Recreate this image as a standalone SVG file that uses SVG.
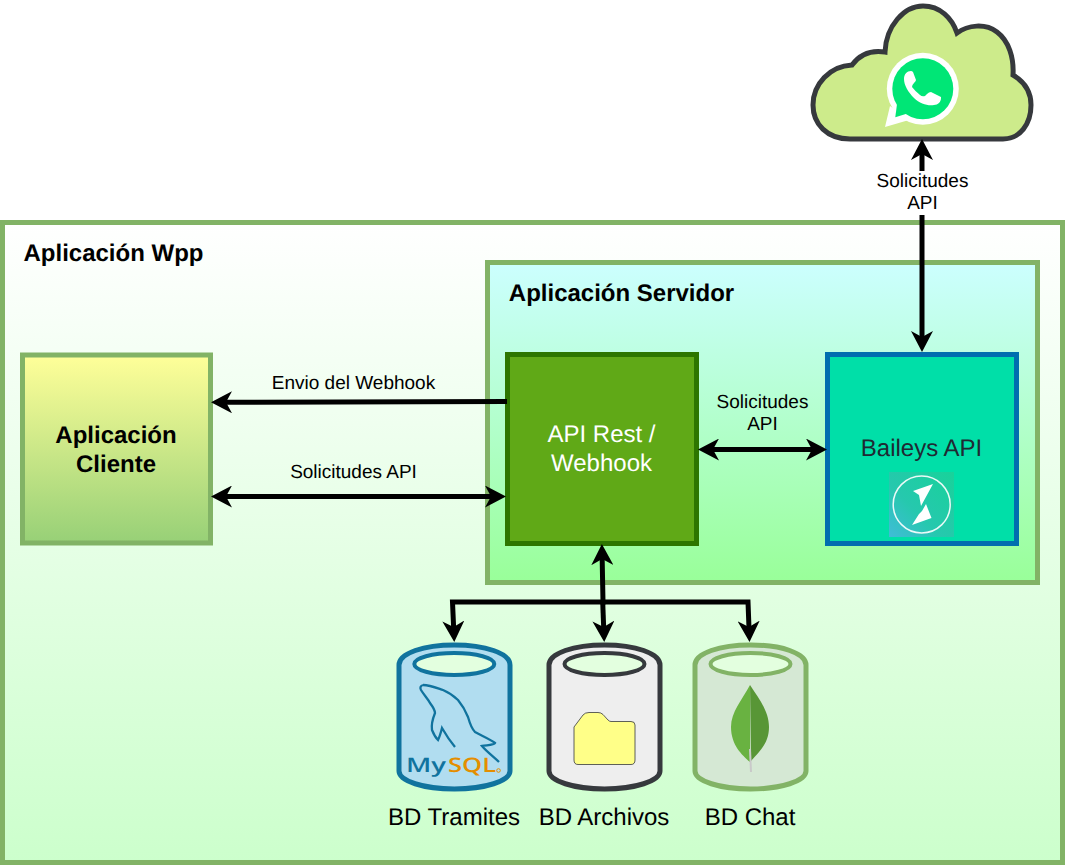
<svg xmlns="http://www.w3.org/2000/svg" width="1065" height="865" viewBox="0 0 1065 865">
<style>
text{font-family:"Liberation Sans",Arial,sans-serif;fill:#000;text-anchor:middle;text-rendering:geometricPrecision}
.t{font-size:24px;font-weight:bold}
.l{font-size:24px}
.s{font-size:19px}
.g{stroke:#82b366;stroke-width:5}
.c{fill:none;stroke:#000;stroke-width:5;marker-end:url(#h)}
.b{marker-start:url(#h)}
.cyl{stroke-width:5}
.hole{fill:#e3ffdf;stroke-width:4}
</style>
<defs>
<linearGradient id="g1" x1="0" y1="0" x2="0" y2="1"><stop offset="0" stop-color="#fff"/><stop offset="1" stop-color="#cfc"/></linearGradient>
<linearGradient id="g2" x1="0" y1="0" x2="0" y2="1"><stop offset="0" stop-color="#cff"/><stop offset="1" stop-color="#9f9"/></linearGradient>
<linearGradient id="g3" x1="0" y1="0" x2="0" y2="1"><stop offset="0" stop-color="#ff9"/><stop offset="1" stop-color="#97d077"/></linearGradient>
<linearGradient id="g4" x1="0" y1="1" x2="1" y2="0"><stop offset="0" stop-color="#40bcd8"/><stop offset=".4" stop-color="#26c8ae"/><stop offset="1" stop-color="#18d29a"/></linearGradient>
<marker id="h" markerUnits="userSpaceOnUse" markerWidth="22" markerHeight="22" viewBox="0 0 22 22" refX="15" refY="11" orient="auto-start-reverse"><path d="M21,11L0,0L6,11L0,22Z" fill="#000"/></marker>
</defs>

<g id="app-wpp">
<rect x="2.5" y="222.5" width="1060" height="640" fill="url(#g1)" class="g"/>
<text class="t" x="113.500" y="261">Aplicación Wpp</text>
</g>
<g id="app-servidor">
<rect x="487.500" y="262.500" width="550" height="320" fill="url(#g2)" class="g"/>
<text class="t" x="621.500" y="301">Aplicación Servidor</text>
</g>
<g id="app-cliente">
<rect x="22.500" y="355" width="188" height="188" fill="url(#g3)" class="g"/>
<text class="t" x="116" y="443">Aplicación</text>
<text class="t" x="116" y="472">Cliente</text>
</g>
<g id="api-rest">
<rect x="507.500" y="354.500" width="189" height="189" fill="#60a917" stroke="#2d7600" stroke-width="5"/>
<text class="l" x="601.500" y="442" style="fill:#fff">API Rest /</text>
<text class="l" x="601.500" y="471" style="fill:#fff">Webhook</text>
</g>
<g id="baileys-api">
<rect x="827.500" y="354.500" width="189" height="189" fill="#00dfa8" stroke="#006eaf" stroke-width="5"/>
<text class="l" x="921.500" y="456" style="fill:#1f2a33">Baileys API</text>
<rect x="889" y="472" width="65" height="65" fill="url(#g4)"/>
<circle cx="921.700" cy="504.500" r="28.500" fill="none" stroke="#fff" stroke-width="1.500" opacity=".9"/>
<path d="M933,484L913,491L919,495L921,506ZM926,504L931.500,518L912,525L919,514L922,511Z" fill="#fff"/>
</g>
<g id="whatsapp-cloud">
<path d="M850,139C827,139 813,124 813,105C813,84 830,66 852,65C860,54 872,50 885,52C886,26 904,6 923,6C940,6 952,18 957,33C968,25 985,23 997,32C1009,41 1014,58 1013,75C1025,82 1031,93 1031,105C1031,124 1020,139 1003,139Z" fill="#cdeb8b" stroke="#36393d" stroke-width="5"/>
<circle cx="922.800" cy="88.800" r="36" fill="#fff"/>
<path d="M890,106L885,127L909,120Z" fill="#fff"/>
<circle cx="922.800" cy="88.800" r="30.500" fill="#00e676"/>
<path d="M897,104L895.300,117.300L909,113Z" fill="#00e676"/>
<path d="M911,71C907,71 904,74 904,79C904,85 908,92 914,98C920,104 928,106 934,105C938,105 941,102 941,98L941,97L931,92Q929,92 927,94L925,96Q922,97 920,95Q915,91 912,87Q912,85 914,83Q916,81 916,80L913,72Q912,71 911,71Z" fill="#fff"/>
</g>
<g id="bd-tramites">
<path class="cyl" d="M399,665C399,653 424,645 454.300,645S510,653 510,665V771C510,781 485,789 454.300,789S399,781 399,771Z" fill="#b1ddf0" stroke="#10739e"/>
<ellipse class="hole" cx="454.300" cy="664" rx="40" ry="11" stroke="#10739e"/>
<path d="M423,685C430,685 437,688 443,690C450,693 455,697 458,700C463,706 466,712 468,717C470,724 472,729 475,732C482,736 490,739 495,743C494,745 488,745 482,746C487,752 494,757 499,762M423,685C420,686 420,688 421,690C424,695 428,699 430,703C433,707 435,710 435,713C433,718 431,724 432,730C434,735 436,738 438,740C440,736 441,732 442,728C446,735 450,741 455,747" fill="none" stroke="#10739e" stroke-width="2.300"/>
<text x="426" y="772" font-size="20" font-weight="600" textLength="40" lengthAdjust="spacingAndGlyphs" style="fill:#10739e;font-family:'Open Sans',sans-serif">My</text>
<text x="472" y="772" font-size="20" font-weight="600" textLength="48" lengthAdjust="spacingAndGlyphs" style="fill:#e48e00;font-family:'Open Sans',sans-serif">SQL</text>
<circle cx="498.500" cy="770.500" r="1.800" fill="none" stroke="#e48e00"/>
<text class="l" x="454" y="825">BD Tramites</text>
</g>
<g id="bd-archivos">
<path class="cyl" d="M549,665C549,653 574,645 604.500,645S660,653 660,665V771C660,781 635,789 604.500,789S549,781 549,771Z" fill="#eee" stroke="#36393d"/>
<ellipse class="hole" cx="604.500" cy="664" rx="40" ry="11" stroke="#36393d"/>
<path d="M574,758V727L583,715Q585,712.500 589,712.500H598Q601,712.500 603,714.500L608,720Q609.500,721.500 611,721.500H631Q635,721.500 635,725V760Q635,764.500 631,764.500H578Q574,764.500 574,760Z" fill="#ff8" stroke="#36393d" stroke-width=".8"/>
<text class="l" x="604" y="825">BD Archivos</text>
</g>
<g id="bd-chat">
<path class="cyl" d="M695,665C695,653 720,645 750.500,645S806,653 806,665V771C806,781 781,789 750.500,789S695,781 695,771Z" fill="#d5e8d4" stroke="#82b366"/>
<ellipse class="hole" cx="750.500" cy="664" rx="40" ry="11" stroke="#82b366"/>
<path d="M750,685C742,700 731,712 731,727C731,745 742,755 750,762Z" fill="#69b241"/>
<path d="M750,685C760,700 769,712 769,727C769,743 760,751 751,761Z" fill="#589636"/>
<path d="M750,749L751,772" stroke="#c9c9c9" stroke-width="2" fill="none"/>
<text class="l" x="750" y="825">BD Chat</text>
</g>

<g id="connectors">
<path class="c" d="M507,401.500L217,402.300"/>
<path class="c b" d="M217,496.500H500"/>
<path class="c b" d="M704,449.500H821"/>
<path class="c b" d="M922,145V346"/>
<path class="c b" d="M602,550L603,602H452.500L454,636"/>
<path class="c" d="M602.700,602L604,636"/>
<path class="c" d="M603,602H748L749.300,636"/>
<rect x="875" y="171" width="95" height="44" fill="#fff"/>
<text class="s" x="922.500" y="187">Solicitudes</text>
<text class="s" x="922.500" y="209">API</text>
<text class="s" x="353.500" y="389">Envio del Webhook</text>
<text class="s" x="353.500" y="478">Solicitudes API</text>
<text class="s" x="762.500" y="408">Solicitudes</text>
<text class="s" x="762.500" y="430">API</text>
</g>
</svg>
